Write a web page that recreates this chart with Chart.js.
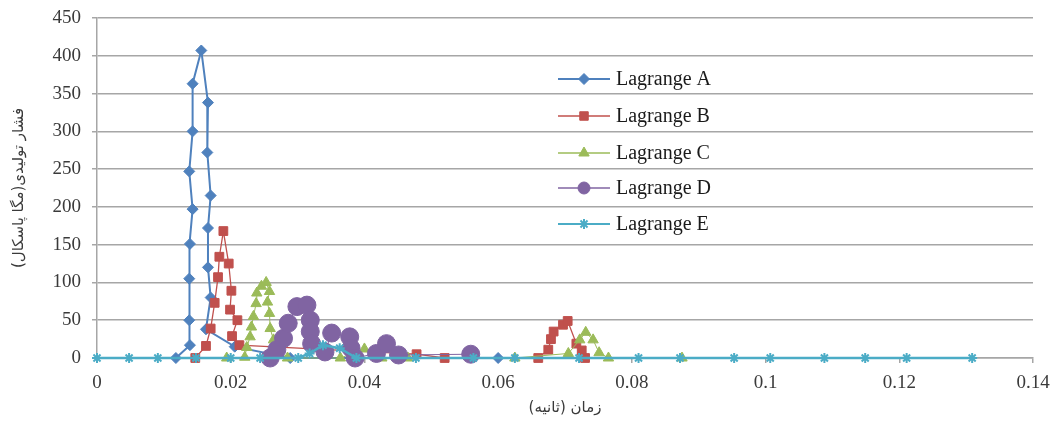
<!DOCTYPE html>
<html>
<head>
<meta charset="utf-8">
<script src="https://cdn.jsdelivr.net/npm/chart.js@4/dist/chart.umd.min.js"></script>
<style>
  html, body { margin: 0; padding: 0; background: #fff; }
  #wrap { width: 1055px; height: 421px; position: relative; }
</style>
</head>
<body>
<div id="wrap"><canvas id="chart" width="1055" height="421"></canvas></div>
<script>
// series values (time in s, pressure in MPa)
const seriesNames = ["Lagrange A", "Lagrange B", "Lagrange C", "Lagrange D", "Lagrange E"];
const seriesColors = ["#4F81BD", "#C0504D", "#9BBB59", "#8064A2", "#4BACC6"];

const aX = [0.0118, 0.0139, 0.0138, 0.0138, 0.0139, 0.0143, 0.0138, 0.0143, 0.0143, 0.0156, 0.0166, 0.0165, 0.0170, 0.0166, 0.0166, 0.0170, 0.0163, 0.0206, 0.0289, 0.0600];
const aY = [0, 17, 50, 105, 151, 197, 247, 300, 363, 407, 338, 272, 215, 172, 120, 80, 38, 15, 0, 0];

const bX = [0.0147, 0.0163, 0.0170, 0.0176, 0.0181, 0.0183, 0.0189, 0.0197, 0.0201, 0.0199, 0.0210, 0.0202, 0.0213, 0.0478, 0.0520, 0.0660, 0.0675, 0.0679, 0.0683, 0.0697, 0.0704, 0.0717, 0.0725, 0.0730];
const bY = [0, 16, 39, 73, 107, 134, 168, 125, 89, 64, 50, 29, 17, 5, 0, 0, 11, 25, 35, 44, 49, 19, 10, 0];

const cX = [0.0194, 0.0221, 0.0224, 0.0229, 0.0231, 0.0234, 0.0238, 0.0239, 0.0246, 0.0253, 0.0258, 0.0255, 0.0258, 0.0259, 0.0264, 0.0268, 0.0285, 0.0364, 0.0400, 0.0426, 0.0465, 0.0625, 0.0705, 0.0722, 0.0731, 0.0742, 0.0751, 0.0765, 0.0875];
const cY = [0, 1, 14, 28, 41, 55, 72, 86, 95, 100, 88, 74, 59, 39, 24, 10, 0, 0, 12, 0, 0, 0, 6, 24, 34, 24, 7, 0, 0];

const dX = [0.0259, 0.0269, 0.0279, 0.0286, 0.0299, 0.0314, 0.0319, 0.0319, 0.0321, 0.0341, 0.0351, 0.0378, 0.0380, 0.0386, 0.0418, 0.0433, 0.0451, 0.0559];
const dY = [0, 11, 26, 46, 68, 70, 50, 35, 19, 8, 33, 28, 13, 0, 6, 19, 4, 5];

const eX = [0, 0.0048, 0.0091, 0.0148, 0.0200, 0.0244, 0.0301, 0.0318, 0.0338, 0.0363, 0.0388, 0.0477, 0.0563, 0.0625, 0.0721, 0.0810, 0.0872, 0.0953, 0.1007, 0.1088, 0.1149, 0.1211, 0.1309];
const eY = [0, 0, 0, 0, 0, 0, 0, 6, 17, 13, 0, 0, 0, 0, 0, 0, 0, 0, 0, 0, 0, 0, 0];

const xTickLabels = ["0", "0.02", "0.04", "0.06", "0.08", "0.1", "0.12", "0.14"];
const yTickLabels = ["0", "50", "100", "150", "200", "250", "300", "350", "400", "450"];

const xTitle = "زمان (ثانیه)";
const yTitle = "فشار تولیدی(مگا پاسکال)";

function pts(xs, ys) {
  return xs.map((x, i) => ({ x: x, y: ys[i] }));
}

const markerStyle = ["rectRot", "rect", "triangle", "circle", "star"];
const markerRadius = [5.5, 6.2, 6, 9, 5];
const lineWidths = [2, 1.3, 1, 1, 2.5];
const allX = [aX, bX, cX, dX, eX];
const allY = [aY, bY, cY, dY, eY];

const datasets = seriesNames.map((name, i) => ({
  label: name,
  data: pts(allX[i], allY[i]),
  showLine: true,
  clip: false,
  borderColor: seriesColors[i],
  borderWidth: lineWidths[i],
  backgroundColor: seriesColors[i],
  pointStyle: markerStyle[i],
  pointRadius: markerRadius[i],
  pointBorderColor: seriesColors[i],
  pointBackgroundColor: seriesColors[i],
  pointBorderWidth: i === 4 ? 2 : 1,
  order: 5 - i,
  tension: 0
}));

// legend drawn by hand: a short line with the marker in the middle, then the name
const sideLegend = {
  id: "sideLegend",
  afterDraw(chart) {
    const ctx = chart.ctx;
    const x0 = 558, x1 = 610, tx = 616;
    const rows = [79, 116, 153, 188, 224];
    ctx.save();
    seriesNames.forEach((name, i) => {
      const y = rows[i];
      const mx = (x0 + x1) / 2;
      ctx.strokeStyle = seriesColors[i];
      ctx.fillStyle = seriesColors[i];
      ctx.lineWidth = lineWidths[i] < 1.5 ? 1.5 : 2;
      ctx.beginPath();
      ctx.moveTo(x0, y);
      ctx.lineTo(x1, y);
      ctx.stroke();
      ctx.lineWidth = i === 4 ? 2 : 1;
      Chart.helpers.drawPoint(ctx, {
        pointStyle: markerStyle[i],
        radius: Math.min(markerRadius[i], 6),
        rotation: 0,
        borderWidth: i === 4 ? 2 : 1
      }, mx, y);
      ctx.fillStyle = "#1a1a1a";
      ctx.font = "20px 'Liberation Serif'";
      ctx.textBaseline = "middle";
      ctx.textAlign = "left";
      ctx.fillText(name, tx, y + 1);
    });
    ctx.restore();
  }
};

const tickFont = { family: "'Liberation Serif'", size: 19 };
const gridColor = "#a6a6a6";

new Chart(document.getElementById("chart"), {
  type: "scatter",
  data: { datasets: datasets },
  options: {
    responsive: false,
    animation: false,
    layout: { padding: { left: 0, right: 22, top: 18, bottom: 0 } },
    plugins: {
      legend: { display: false },
      tooltip: { enabled: false }
    },
    scales: {
      x: {
        type: "linear",
        min: 0,
        max: 0.14,
        afterFit(scale) {
          scale.height = 63;
          scale.paddingLeft = 0;
          scale.paddingRight = 0;
        },
        ticks: {
          stepSize: 0.02,
          color: "#3a3a3a",
          font: tickFont,
          padding: 9,
          maxRotation: 0,
          callback: (v, i) => xTickLabels[i]
        },
        grid: {
          drawOnChartArea: false,
          drawTicks: true,
          tickLength: 5,
          color: gridColor,
          lineWidth: 1.5
        },
        border: { display: true, color: gridColor, width: 1.5 },
        title: {
          display: true,
          text: xTitle,
          color: "#3a3a3a",
          font: { family: "'DejaVu Sans'", size: 15 },
          padding: { top: 0, bottom: 4 }
        }
      },
      y: {
        type: "linear",
        min: 0,
        max: 450,
        afterFit(scale) {
          scale.width = 97;
          scale.paddingTop = 0;
          scale.paddingBottom = 0;
        },
        ticks: {
          stepSize: 50,
          color: "#3a3a3a",
          font: tickFont,
          padding: 11,
          callback: (v, i) => yTickLabels[i]
        },
        grid: {
          drawTicks: true,
          tickLength: 5,
          color: gridColor,
          lineWidth: 1.5
        },
        border: { display: true, color: gridColor, width: 1.5 },
        title: {
          display: true,
          text: yTitle,
          color: "#3a3a3a",
          font: { family: "'DejaVu Sans'", size: 15 },
          padding: { top: 10, bottom: 0 }
        }
      }
    }
  },
  plugins: [sideLegend]
});
</script>
</body>
</html>
